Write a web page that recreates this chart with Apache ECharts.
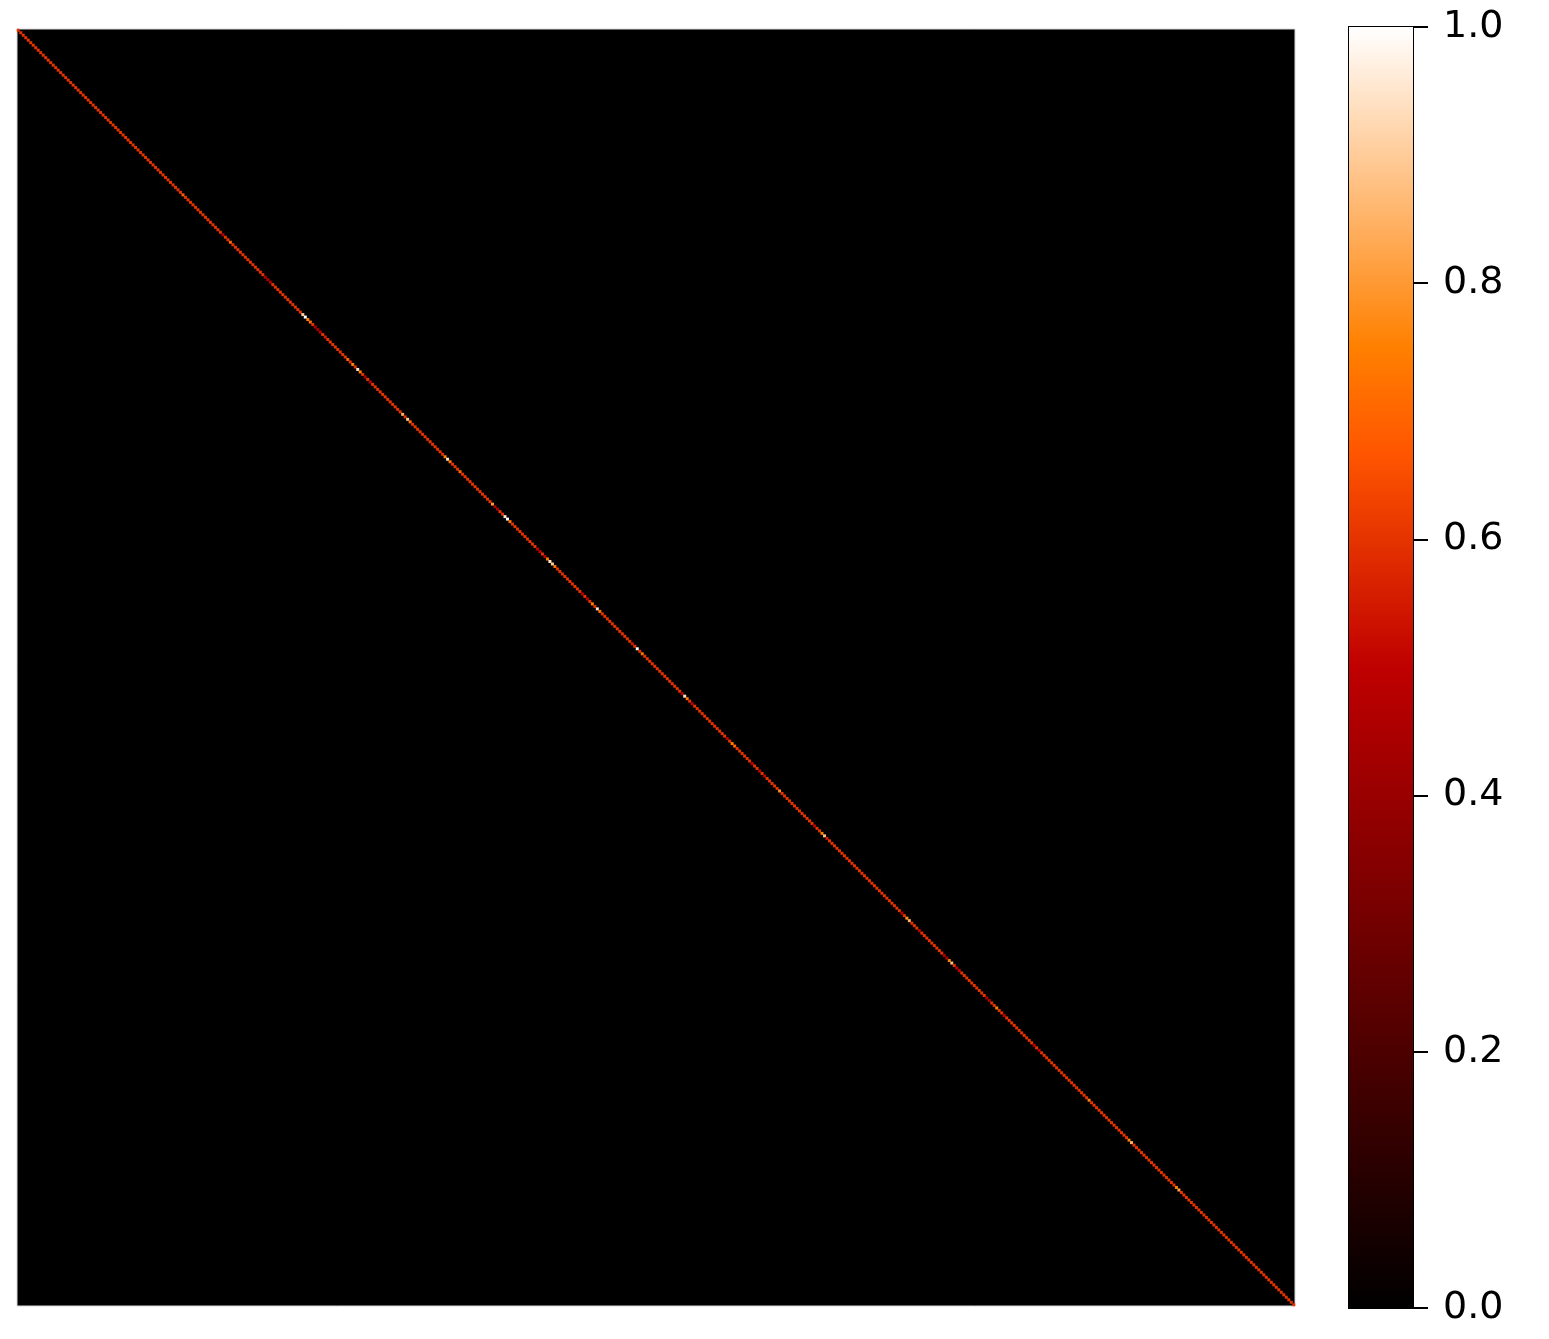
<!DOCTYPE html>
<html>
<head>
<meta charset="utf-8">
<script src="https://cdn.jsdelivr.net/npm/echarts@6/dist/echarts.min.js"></script>
<style>
  html, body { margin: 0; padding: 0; background: #fff; }
  #chart { width: 1549px; height: 1339px; }
</style>
</head>
<body>
<div id="chart"></div>
<script>
// matrix size (rows = cols), only the diagonal is non-zero
const matrixSize = 512;
// typical diagonal value
const diagBase = 0.6;
// diagonal cells that stand out: [index, value]
const diagMarks = [
  [66, 0.68], [82, 0.5], [85, 0.7], [99, 0.45], [100, 0.45], [101, 0.45],
  [114, 0.9], [115, 1.0], [116, 0.75], [117, 0.72], [119, 0.45], [120, 0.42], [121, 0.48], [123, 0.55],
  [132, 0.7], [134, 0.75], [136, 0.95], [137, 0.75], [139, 0.45], [141, 0.5],
  [154, 0.85], [156, 0.9], [157, 0.72], [171, 0.75], [172, 0.95], [173, 0.72], [177, 0.7],
  [190, 0.8], [191, 0.45], [192, 0.45], [195, 0.95], [196, 1.0], [197, 0.72],
  [208, 0.5], [209, 0.5], [211, 0.5], [212, 0.75], [213, 0.95], [214, 0.9], [215, 0.72],
  [226, 0.5], [228, 0.5], [230, 0.75], [232, 0.95], [233, 0.72],
  [246, 0.55], [248, 1.0], [250, 0.72], [266, 0.5], [267, 0.95], [268, 0.72], [270, 0.5],
  [284, 0.5], [286, 0.75], [287, 0.7], [294, 0.5], [297, 0.5], [299, 0.5], [305, 0.78],
  [319, 0.5], [322, 0.75], [323, 0.88], [324, 0.55],
  [354, 0.5], [356, 0.78], [357, 0.85], [361, 0.5], [371, 0.45], [372, 0.45], [373, 0.75], [374, 0.88],
  [376, 0.5], [377, 0.5], [388, 0.45], [389, 0.45], [392, 0.75], [395, 0.5], [407, 0.5], [409, 0.5],
  [429, 0.75], [445, 0.75], [446, 0.85], [464, 0.75], [465, 0.82]
];
// colorbar tick labels
const cbarTicks = [0.0, 0.2, 0.4, 0.6, 0.8, 1.0];
// gist_heat colour stops, evenly spaced 0..1
const heatColors = [
  '#000000', '#200000', '#400000', '#600000', '#800000', '#9f0000', '#bf0000',
  '#df2b00', '#ff5500', '#ff8000', '#ffaa55', '#ffd4aa', '#ffffff'
];

const cats = Array.from({ length: matrixSize }, (_, i) => i);
const diag = new Array(matrixSize).fill(diagBase);
diagMarks.forEach(([i, v]) => { diag[i] = v; });
const cells = diag.map((v, i) => [i, i, v]);

const chart = echarts.init(document.getElementById('chart'));
chart.setOption({
  animation: false,
  grid: [
    {
      left: 17, top: 29, width: 1278, height: 1277,
      show: true, backgroundColor: '#000', borderColor: '#d8d8d8', borderWidth: 1
    },
    {
      left: 1349, top: 27, width: 64, height: 1281,
      show: true, backgroundColor: 'transparent', borderColor: '#000', borderWidth: 2
    }
  ],
  xAxis: [
    { type: 'category', gridIndex: 0, data: cats, show: false },
    { type: 'category', gridIndex: 1, data: ['c'], show: false }
  ],
  yAxis: [
    { type: 'category', gridIndex: 0, data: cats, inverse: true, show: false },
    {
      type: 'value', gridIndex: 1, position: 'right', min: 0, max: 1, interval: 0.2,
      splitLine: { show: false },
      axisLine: { show: true, lineStyle: { color: '#000', width: 2 } },
      axisTick: { show: true, inside: false, length: 15, lineStyle: { color: '#000', width: 2 } },
      axisLabel: {
        margin: 30, fontSize: 38, color: '#000', fontFamily: 'DejaVu Sans',
        formatter: v => cbarTicks.find(t => Math.abs(t - v) < 1e-6).toFixed(1)
      }
    }
  ],
  visualMap: {
    type: 'continuous', show: false, min: 0, max: 1, seriesIndex: 0, dimension: 2,
    inRange: { color: heatColors }
  },
  series: [
    {
      type: 'heatmap', xAxisIndex: 0, yAxisIndex: 0, data: cells,
      itemStyle: { borderWidth: 0 }, progressive: 0
    },
    {
      type: 'bar', xAxisIndex: 1, yAxisIndex: 1, data: [1], barWidth: '100%', silent: true,
      itemStyle: {
        color: new echarts.graphic.LinearGradient(0, 1, 0, 0,
          heatColors.map((c, i) => ({ offset: i / (heatColors.length - 1), color: c })))
      }
    }
  ]
});
</script>
</body>
</html>
